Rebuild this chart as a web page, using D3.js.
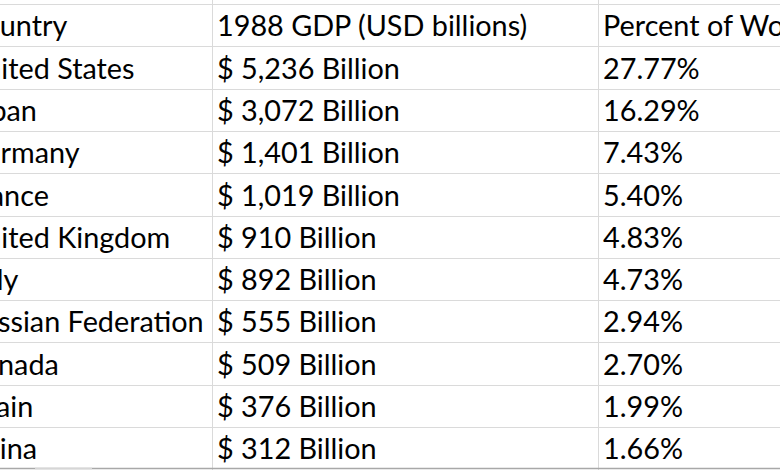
<!DOCTYPE html>
<html>
<head>
<meta charset="utf-8">
<script src="https://cdn.jsdelivr.net/npm/d3@7/dist/d3.min.js"></script>
<style>
  html, body { margin: 0; padding: 0; background: #fff; overflow: hidden; }
  svg { display: block; }
</style>
</head>
<body>
<svg id="chart" width="780" height="470"></svg>
<script>
// ---- data ----
const headers = ["Country", "1988 GDP (USD billions)", "Percent of World GDP"];
const countries = ["United States", "Japan", "Germany", "France", "United Kingdom",
  "Italy", "Russian Federation", "Canada", "Spain", "China"];
const gdpBillions = [5236, 3072, 1401, 1019, 910, 892, 555, 509, 376, 312];
const percentWorld = [27.77, 16.29, 7.43, 5.40, 4.83, 4.73, 2.94, 2.70, 1.99, 1.66];

// ---- layout ----
const W = 780, H = 470;
const svg = d3.select("#chart");
const fontFamily = "Lato, 'Open Sans', sans-serif";
const fontSize = 28.8;

const rowIdx = d3.range(countries.length + 1);
const y = d3.scaleBand().domain(rowIdx).range([4, 469.3]).paddingInner(0).paddingOuter(0);
const colEdges = [-40, 212.5, 598.5, 1000];
const x = d3.scaleOrdinal().domain([0, 1, 2]).range(colEdges.slice(0, 3));

const fmtInt = d3.format(",d");
const fmtPct = d3.format(".2f");
const rows = [headers].concat(countries.map((c, i) => [
  c,
  "$ " + fmtInt(gdpBillions[i]) + " Billion",
  fmtPct(percentWorld[i]) + "%"
]));

// background
svg.append("rect").attr("width", W).attr("height", H).attr("fill", "#ffffff");

// horizontal grid lines
svg.append("g").selectAll("line").data(rowIdx).join("line")
  .attr("x1", 0).attr("x2", W)
  .attr("y1", d => Math.round(y(d)) + 0.5).attr("y2", d => Math.round(y(d)) + 0.5)
  .attr("stroke", "#dadada").attr("stroke-width", 1);

// vertical grid lines
svg.append("g").selectAll("line").data([1, 2]).join("line")
  .attr("x1", d => x(d)).attr("x2", d => x(d))
  .attr("y1", 0).attr("y2", H)
  .attr("stroke", "#dadada").attr("stroke-width", 1);

// bottom frame edge
svg.append("line").attr("x1", 0).attr("x2", W).attr("y1", 468.5).attr("y2", 468.5)
  .attr("stroke", "#a8a8a8").attr("stroke-width", 1.5);
svg.append("line").attr("x1", 35).attr("x2", 92).attr("y1", 468.5).attr("y2", 468.5)
  .attr("stroke", "#d6d6d6").attr("stroke-width", 1.5);

// cell texts
const g = svg.append("g")
  .attr("font-family", fontFamily)
  .attr("font-size", fontSize)
  .attr("fill", "#000");

rows.forEach((r, ri) => {
  r.forEach((txt, ci) => {
    g.append("text")
      .attr("x", x(ci) + 4.5)
      .attr("y", y(ri) + y.bandwidth() - 10)
      .text(txt);
  });
});
</script>
</body>
</html>
